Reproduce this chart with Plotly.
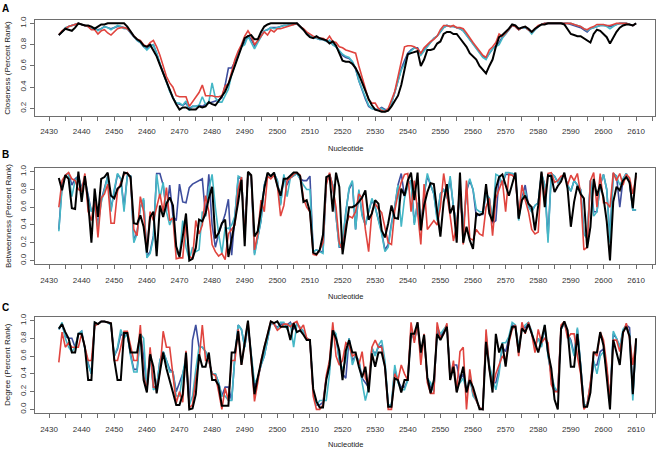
import plotly.graph_objects as go

nucleotides = list(range(2433, 2611))

# ---------------- Panel A: Closeness ----------------
close_blue = [
    0.89, 0.92, 0.95, 0.97, 0.98, 0.99, 1.00, 0.99, 0.98, 0.97,
    0.95, 0.95, 0.94, 0.95, 0.97, 0.96, 0.95, 0.96, 0.97, 0.97,
    0.96, 0.95, 0.91, 0.87, 0.84, 0.82, 0.78, 0.76, 0.79, 0.80,
    0.72, 0.62, 0.53, 0.45, 0.37, 0.30, 0.25, 0.24, 0.23, 0.25,
    0.20, 0.22, 0.22, 0.23, 0.22, 0.24, 0.25, 0.26, 0.27, 0.28,
    0.30, 0.42, 0.58, 0.58, 0.64, 0.71, 0.79, 0.82, 0.88, 0.85,
    0.79, 0.83, 0.88, 0.93, 0.94, 0.96, 0.96, 0.96, 0.97, 0.98,
    0.98, 0.99, 0.99, 1.00, 0.97, 0.94, 0.91, 0.89, 0.87, 0.86,
    0.85, 0.85, 0.83, 0.84, 0.80, 0.78, 0.74, 0.70, 0.68, 0.67,
    0.64, 0.57, 0.46, 0.37, 0.29, 0.22, 0.20, 0.19, 0.19, 0.21,
    0.19, 0.19, 0.25, 0.35, 0.46, 0.57, 0.65, 0.72, 0.75, 0.77,
    0.77, 0.71, 0.75, 0.79, 0.83, 0.86, 0.88, 0.92, 0.96, 0.98,
    0.97, 0.97, 0.96, 0.95, 0.93, 0.89, 0.85, 0.80, 0.76, 0.72,
    0.69, 0.67, 0.72, 0.76, 0.79, 0.82, 0.87, 0.90, 0.94, 0.98,
    0.97, 0.94, 0.96, 0.96, 0.94, 0.91, 0.94, 0.97, 0.99, 1.00,
    1.00, 1.00, 1.00, 1.00, 1.00, 1.00, 1.00, 0.99, 0.98, 0.97,
    0.96, 0.94, 0.92, 0.95, 0.96, 0.97, 0.98, 0.98, 0.98, 0.97,
    0.98, 0.99, 1.00, 1.00, 1.00, 0.99, 0.98, 1.00,
]
close_cyan = [
    0.89, 0.92, 0.96, 0.97, 0.98, 0.99, 1.00, 0.99, 0.98, 0.97,
    0.95, 0.96, 0.93, 0.95, 0.97, 0.96, 0.94, 0.96, 0.98, 0.97,
    0.95, 0.95, 0.91, 0.87, 0.84, 0.82, 0.78, 0.75, 0.78, 0.80,
    0.72, 0.62, 0.53, 0.45, 0.36, 0.30, 0.25, 0.25, 0.23, 0.27,
    0.18, 0.22, 0.22, 0.23, 0.31, 0.24, 0.26, 0.44, 0.30, 0.26,
    0.26, 0.32, 0.38, 0.52, 0.62, 0.70, 0.78, 0.80, 0.88, 0.82,
    0.76, 0.82, 0.88, 0.93, 0.94, 0.96, 0.95, 0.96, 0.97, 0.98,
    0.98, 0.99, 0.99, 1.00, 0.97, 0.94, 0.91, 0.89, 0.87, 0.86,
    0.85, 0.85, 0.83, 0.84, 0.80, 0.78, 0.74, 0.71, 0.69, 0.68,
    0.64, 0.58, 0.46, 0.38, 0.30, 0.23, 0.20, 0.19, 0.19, 0.20,
    0.18, 0.19, 0.25, 0.35, 0.46, 0.56, 0.62, 0.70, 0.74, 0.77,
    0.76, 0.70, 0.74, 0.78, 0.82, 0.86, 0.88, 0.92, 0.96, 0.98,
    0.97, 0.97, 0.96, 0.95, 0.93, 0.89, 0.85, 0.80, 0.76, 0.72,
    0.68, 0.66, 0.72, 0.76, 0.78, 0.80, 0.86, 0.90, 0.94, 0.98,
    0.97, 0.94, 0.96, 0.96, 0.94, 0.90, 0.94, 0.97, 0.99, 1.00,
    1.00, 1.00, 1.00, 1.00, 1.00, 1.00, 1.00, 1.00, 0.99, 0.98,
    0.97, 0.95, 0.93, 0.95, 0.96, 0.97, 0.98, 0.98, 0.97, 0.95,
    0.97, 0.99, 1.00, 1.00, 1.00, 0.99, 0.98, 1.00,
]
close_red = [
    0.89, 0.93, 0.95, 0.97, 0.98, 0.99, 1.00, 0.99, 0.98, 0.97,
    0.94, 0.94, 0.90, 0.93, 0.94, 0.91, 0.89, 0.92, 0.95, 0.96,
    0.96, 0.95, 0.92, 0.88, 0.85, 0.84, 0.80, 0.78, 0.82, 0.84,
    0.78, 0.70, 0.60, 0.50, 0.44, 0.40, 0.32, 0.31, 0.31, 0.31,
    0.22, 0.26, 0.31, 0.35, 0.42, 0.32, 0.32, 0.32, 0.31, 0.31,
    0.32, 0.41, 0.43, 0.55, 0.66, 0.74, 0.80, 0.88, 0.93, 0.88,
    0.80, 0.84, 0.88, 0.92, 0.89, 0.94, 0.92, 0.95, 0.95, 0.96,
    0.97, 0.98, 0.99, 1.00, 0.97, 0.95, 0.92, 0.90, 0.88, 0.87,
    0.86, 0.86, 0.84, 0.88, 0.83, 0.82, 0.78, 0.77, 0.75, 0.74,
    0.73, 0.72, 0.60, 0.50, 0.38, 0.28, 0.25, 0.25, 0.20, 0.18,
    0.17, 0.20, 0.28, 0.36, 0.50, 0.65, 0.78, 0.79, 0.79, 0.78,
    0.76, 0.72, 0.77, 0.80, 0.83, 0.85, 0.88, 0.94, 0.98, 0.98,
    0.97, 0.98, 0.96, 0.96, 0.95, 0.91, 0.86, 0.82, 0.78, 0.74,
    0.70, 0.68, 0.75, 0.78, 0.82, 0.90, 0.88, 0.91, 0.95, 0.98,
    0.97, 0.94, 0.96, 0.97, 0.94, 0.92, 0.95, 0.98, 0.99, 1.00,
    1.00, 1.00, 1.00, 1.00, 1.00, 1.00, 1.00, 1.00, 0.99, 0.98,
    0.97, 0.95, 0.94, 0.96, 0.97, 0.99, 0.99, 0.99, 0.98, 0.98,
    0.99, 1.00, 1.00, 1.00, 1.00, 0.99, 0.98, 1.00,
]
close_black = [
    0.89, 0.92, 0.95, 0.94, 0.93, 0.96, 1.00, 0.99, 0.98, 0.98,
    0.97, 0.95, 0.97, 0.99, 0.99, 1.00, 1.00, 1.00, 1.00, 1.00,
    1.00, 0.97, 0.92, 0.88, 0.85, 0.83, 0.79, 0.78, 0.80, 0.75,
    0.69, 0.61, 0.53, 0.46, 0.38, 0.30, 0.24, 0.19, 0.21, 0.21,
    0.19, 0.19, 0.19, 0.22, 0.21, 0.22, 0.26, 0.24, 0.23, 0.27,
    0.32, 0.36, 0.43, 0.52, 0.61, 0.69, 0.78, 0.86, 0.88, 0.89,
    0.85, 0.85, 0.92, 0.97, 0.99, 1.00, 1.00, 1.00, 1.00, 1.00,
    1.00, 1.00, 1.00, 1.00, 0.97, 0.94, 0.90, 0.87, 0.86, 0.88,
    0.86, 0.85, 0.84, 0.81, 0.83, 0.79, 0.72, 0.65, 0.64, 0.64,
    0.62, 0.58, 0.52, 0.44, 0.36, 0.29, 0.23, 0.19, 0.18, 0.17,
    0.17, 0.18, 0.22, 0.27, 0.32, 0.42, 0.55, 0.71, 0.72, 0.73,
    0.74, 0.60, 0.66, 0.75, 0.75, 0.76, 0.81, 0.83, 0.90, 0.92,
    0.92, 0.90, 0.90, 0.86, 0.82, 0.78, 0.72, 0.69, 0.66, 0.60,
    0.56, 0.53, 0.60, 0.66, 0.78, 0.87, 0.89, 0.92, 0.95, 0.99,
    0.98, 0.95, 0.96, 0.97, 0.95, 0.92, 0.95, 0.97, 0.99, 0.99,
    1.00, 1.00, 1.00, 1.00, 1.00, 0.99, 0.95, 0.90, 0.89, 0.88,
    0.88, 0.86, 0.84, 0.82, 0.90, 0.94, 0.93, 0.90, 0.87, 0.81,
    0.87, 0.92, 0.96, 0.98, 0.99, 0.99, 0.98, 1.00,
]

# ---------------- Panel B: Betweenness ----------------
betw_blue = [
    0.35, 0.85, 0.96, 0.98, 0.85, 0.92, 0.95, 0.82, 0.92, 0.72,
    0.55, 0.62, 0.40, 0.68, 0.82, 0.95, 0.58, 0.80, 0.97, 0.92,
    0.60, 0.95, 0.95, 0.22, 0.32, 0.60, 0.68, 0.05, 0.10, 0.28,
    0.98, 0.98, 0.85, 0.55, 0.85, 0.50, 0.45, 0.86, 0.66, 0.65,
    0.82, 0.86, 0.88, 0.90, 0.92, 0.50, 0.97, 0.40, 0.15, 0.30,
    0.40, 0.52, 0.69, 0.06, 0.50, 0.93, 0.93, 0.30, 0.97, 0.95,
    0.08, 0.28, 0.45, 0.85, 0.97, 0.95, 0.98, 0.90, 0.64, 0.95,
    0.85, 0.93, 0.96, 0.98, 0.92, 0.90, 0.90, 0.95, 0.10, 0.12,
    0.10, 0.10, 0.88, 0.97, 0.85, 0.50, 0.15, 0.15, 0.55, 0.80,
    0.88, 0.35, 0.78, 0.52, 0.40, 0.55, 0.68, 0.60, 0.47, 0.32,
    0.12, 0.18, 0.42, 0.60, 0.85, 0.98, 0.72, 0.85, 0.90, 0.42,
    0.65, 0.35, 0.75, 0.95, 0.85, 0.75, 0.48, 0.75, 0.80, 0.72,
    0.92, 0.60, 0.40, 0.75, 0.35, 0.78, 0.90, 0.80, 0.50, 0.52,
    0.52, 0.75, 0.70, 0.42, 0.45, 0.95, 0.85, 0.97, 0.97, 0.98,
    0.97, 0.48, 0.70, 0.85, 0.62, 0.55, 0.62, 0.65, 0.98, 0.85,
    0.25, 0.98, 0.95, 0.88, 0.92, 0.97, 0.85, 0.78, 0.90, 0.85,
    0.80, 0.30, 0.25, 0.90, 0.55, 0.55, 0.85, 0.97, 0.80, 0.25,
    0.98, 0.95, 0.60, 0.92, 0.98, 0.88, 0.57, 0.57,
]
betw_cyan = [
    0.33, 0.82, 0.96, 0.98, 0.72, 0.90, 0.95, 0.80, 0.90, 0.70,
    0.55, 0.60, 0.38, 0.65, 0.80, 0.95, 0.55, 0.80, 0.98, 0.92,
    0.55, 0.95, 0.95, 0.20, 0.30, 0.60, 0.70, 0.03, 0.08, 0.25,
    0.97, 0.70, 0.88, 0.55, 0.40, 0.50, 0.10, 0.05, 0.45, 0.15,
    0.01, 0.15, 0.10, 0.12, 0.55, 0.50, 0.80, 0.97, 0.60, 0.30,
    0.08, 0.37, 0.36, 0.40, 0.50, 0.95, 0.93, 0.30, 0.97, 0.95,
    0.06, 0.28, 0.45, 0.85, 0.97, 0.95, 0.98, 0.90, 0.62, 0.97,
    0.72, 0.93, 0.96, 0.98, 0.92, 0.85, 0.80, 0.80, 0.10, 0.12,
    0.10, 0.08, 0.88, 0.97, 0.85, 0.50, 0.15, 0.25, 0.55, 0.82,
    0.90, 0.35, 0.80, 0.50, 0.40, 0.55, 0.70, 0.60, 0.45, 0.30,
    0.10, 0.15, 0.40, 0.60, 0.85, 0.38, 0.70, 0.85, 0.90, 0.40,
    0.65, 0.35, 0.75, 0.98, 0.85, 0.75, 0.45, 0.75, 0.80, 0.70,
    0.95, 0.60, 0.40, 0.75, 0.35, 0.80, 0.92, 0.80, 0.58, 0.55,
    0.55, 0.75, 0.70, 0.45, 0.97, 0.95, 0.85, 0.99, 0.99, 0.98,
    0.97, 0.45, 0.70, 0.78, 0.60, 0.55, 0.62, 0.65, 0.98, 0.85,
    0.20, 0.98, 0.95, 0.88, 0.92, 0.97, 0.85, 0.78, 0.90, 0.85,
    0.80, 0.30, 0.25, 0.90, 0.50, 0.55, 0.85, 0.97, 0.80, 0.20,
    0.98, 0.95, 0.85, 0.92, 0.98, 0.88, 0.57, 0.57,
]
betw_red = [
    0.60, 0.90, 0.96, 0.99, 0.92, 0.90, 0.80, 0.78, 0.98, 0.55,
    0.45, 0.70, 0.26, 0.70, 0.75, 0.86, 0.42, 0.42, 0.78, 0.88,
    0.97, 0.99, 0.92, 0.35, 0.28, 0.72, 0.55, 0.10, 0.55, 0.45,
    0.60, 0.75, 0.55, 0.82, 0.45, 0.48, 0.02, 0.03, 0.03, 0.45,
    0.05, 0.02, 0.45, 0.30, 0.40, 0.73, 0.55, 0.18, 0.10, 0.05,
    0.08, 0.01, 0.30, 0.35, 0.40, 0.80, 0.94, 0.25, 0.99, 0.96,
    0.12, 0.30, 0.68, 0.55, 0.95, 0.92, 0.96, 0.85, 0.50, 0.62,
    0.90, 0.93, 0.97, 0.99, 0.96, 0.70, 0.60, 0.55, 0.07, 0.06,
    0.12, 0.20, 0.85, 0.99, 0.82, 0.60, 0.20, 0.12, 0.40, 0.50,
    0.48, 0.55, 0.75, 0.70, 0.35, 0.10, 0.55, 0.64, 0.58, 0.54,
    0.35, 0.20, 0.18, 0.56, 0.75, 0.88, 0.97, 0.98, 0.55, 0.90,
    0.55, 0.18, 0.86, 0.35, 0.40, 0.45, 0.40, 0.60, 0.98, 0.75,
    0.50, 0.22, 0.40, 0.85, 0.18, 0.90, 0.25, 0.23, 0.35, 0.30,
    0.28, 0.60, 0.70, 0.28, 0.70, 0.80, 0.90, 0.55, 0.97, 0.96,
    0.92, 0.50, 0.85, 0.68, 0.55, 0.35, 0.30, 0.32, 0.99, 0.70,
    0.98, 0.99, 0.88, 0.90, 0.95, 0.96, 0.85, 0.96, 0.90, 0.98,
    0.75, 0.12, 0.15, 0.90, 0.99, 0.60, 0.98, 0.65, 0.65, 0.60,
    0.99, 0.90, 0.98, 0.85, 0.97, 0.93, 0.75, 0.95,
]
betw_black = [
    0.93, 0.79, 0.96, 0.92, 0.59, 0.58, 1.00, 0.66, 0.95, 0.66,
    0.20, 0.81, 0.49, 0.92, 0.94, 0.99, 0.73, 0.70, 0.81, 0.84,
    0.99, 0.98, 0.94, 0.42, 0.41, 0.51, 0.38, 0.09, 0.49, 0.55,
    0.05, 0.62, 0.49, 0.64, 0.71, 0.62, 0.16, 0.04, 0.27, 0.53,
    0.00, 0.02, 0.14, 0.46, 0.44, 0.53, 0.70, 0.83, 0.25, 0.31,
    0.42, 0.46, 0.04, 0.23, 0.44, 0.66, 0.91, 0.16, 1.00, 0.96,
    0.27, 0.33, 0.57, 0.81, 0.99, 0.95, 0.99, 0.84, 0.73, 0.92,
    0.92, 0.95, 0.99, 0.99, 0.95, 0.66, 0.68, 0.55, 0.09, 0.07,
    0.12, 0.29, 0.94, 0.96, 0.55, 0.99, 0.83, 0.07, 0.33, 0.60,
    0.60, 0.62, 0.66, 0.71, 0.79, 0.46, 0.53, 0.68, 0.64, 0.34,
    0.26, 0.42, 0.62, 0.48, 0.47, 0.81, 0.73, 0.90, 0.99, 0.68,
    0.99, 0.34, 0.62, 0.77, 0.87, 0.86, 0.55, 0.27, 0.66, 0.86,
    0.53, 0.62, 0.20, 0.99, 0.20, 0.38, 0.23, 0.13, 0.53, 0.51,
    0.53, 0.86, 0.53, 0.44, 0.81, 0.94, 0.97, 0.84, 0.73, 0.86,
    0.99, 0.47, 0.68, 0.73, 0.64, 0.60, 0.34, 0.62, 1.00, 0.60,
    0.96, 0.95, 0.77, 0.84, 0.89, 0.99, 0.81, 0.38, 0.66, 0.84,
    0.75, 0.70, 0.14, 0.38, 0.92, 0.73, 0.86, 0.71, 0.44, 0.00,
    0.66, 0.83, 0.79, 0.90, 0.94, 0.88, 0.59, 0.99,
]

# ---------------- Panel C: Degree ----------------
deg_blue = [
    0.90, 0.96, 0.82, 0.80, 0.80, 0.70, 0.85, 0.88, 0.68, 0.52,
    0.40, 0.97, 0.96, 0.99, 0.99, 0.98, 0.95, 0.60, 0.68, 0.85,
    0.82, 0.85, 0.62, 0.45, 0.45, 0.85, 0.60, 0.22, 0.65, 0.25,
    0.25, 0.55, 0.65, 0.55, 0.45, 0.42, 0.20, 0.30, 0.40, 0.55,
    0.05, 0.78, 0.95, 0.70, 0.70, 0.65, 0.55, 0.40, 0.40, 0.30,
    0.15, 0.25, 0.25, 0.10, 0.60, 0.95, 0.90, 0.70, 0.95, 0.60,
    0.25, 0.35, 0.50, 0.60, 0.80, 0.97, 0.96, 0.92, 0.96, 0.96,
    0.95, 0.98, 0.90, 0.96, 0.92, 0.88, 0.80, 0.78, 0.20, 0.05,
    0.05, 0.08, 0.35, 0.45, 0.90, 0.82, 0.55, 0.40, 0.35, 0.80,
    0.55, 0.60, 0.55, 0.35, 0.30, 0.25, 0.68, 0.62, 0.70, 0.72,
    0.50, 0.05, 0.05, 0.45, 0.32, 0.25, 0.25, 0.33, 0.88, 0.78,
    0.95, 0.62, 0.82, 0.35, 0.25, 0.22, 0.90, 0.82, 0.88, 0.93,
    0.38, 0.50, 0.50, 0.33, 0.40, 0.22, 0.35, 0.18, 0.10, 0.02,
    0.00, 0.82, 0.48, 0.30, 0.30, 0.45, 0.70, 0.65, 0.80, 0.95,
    0.93, 0.68, 0.92, 0.92, 0.96, 0.86, 0.72, 0.80, 0.72, 0.92,
    0.62, 0.38, 0.22, 0.20, 0.90, 0.97, 0.85, 0.78, 0.62, 0.90,
    0.50, 0.05, 0.05, 0.28, 0.50, 0.50, 0.65, 0.68, 0.45, 0.10,
    0.85, 0.80, 0.70, 0.88, 0.95, 0.92, 0.15, 0.78,
]
deg_cyan = [
    0.90, 0.98, 0.80, 0.70, 0.65, 0.70, 0.85, 0.88, 0.68, 0.50,
    0.40, 0.98, 0.96, 0.99, 0.99, 0.98, 0.95, 0.60, 0.70, 0.90,
    0.80, 0.85, 0.60, 0.42, 0.42, 0.85, 0.80, 0.22, 0.65, 0.22,
    0.25, 0.55, 0.65, 0.55, 0.42, 0.42, 0.15, 0.15, 0.40, 0.60,
    0.05, 0.15, 0.45, 0.70, 0.70, 0.65, 0.55, 0.40, 0.40, 0.30,
    0.15, 0.15, 0.10, 0.10, 0.60, 0.95, 0.90, 0.70, 0.95, 0.60,
    0.30, 0.35, 0.50, 0.60, 0.80, 0.97, 0.96, 0.90, 0.98, 0.98,
    0.90, 0.97, 0.70, 0.96, 0.92, 0.88, 0.80, 0.78, 0.20, 0.05,
    0.10, 0.10, 0.10, 0.40, 0.90, 0.85, 0.55, 0.45, 0.55, 0.80,
    0.50, 0.60, 0.55, 0.30, 0.10, 0.25, 0.70, 0.60, 0.72, 0.78,
    0.55, 0.05, 0.05, 0.50, 0.30, 0.22, 0.22, 0.33, 0.90, 0.78,
    0.95, 0.60, 0.80, 0.35, 0.30, 0.20, 0.93, 0.85, 0.90, 0.95,
    0.40, 0.50, 0.25, 0.30, 0.35, 0.20, 0.38, 0.15, 0.10, 0.02,
    0.00, 0.85, 0.50, 0.35, 0.22, 0.40, 0.75, 0.75, 0.82, 0.98,
    0.95, 0.70, 0.90, 0.95, 0.98, 0.88, 0.70, 0.80, 0.70, 0.95,
    0.60, 0.40, 0.25, 0.20, 0.90, 0.97, 0.85, 0.75, 0.60, 0.92,
    0.50, 0.05, 0.05, 0.30, 0.55, 0.40, 0.60, 0.65, 0.45, 0.10,
    0.88, 0.80, 0.70, 0.90, 0.95, 0.85, 0.10, 0.78,
]
deg_red = [
    0.53, 0.87, 0.70, 0.75, 0.70, 0.70, 0.70, 0.85, 0.68, 0.55,
    0.55, 0.94, 0.96, 0.99, 0.99, 0.98, 0.97, 0.55, 0.55, 0.70,
    0.88, 0.88, 0.70, 0.55, 0.55, 0.95, 0.38, 0.22, 0.70, 0.25,
    0.24, 0.42, 0.88, 0.70, 0.70, 0.35, 0.07, 0.20, 0.08, 0.66,
    0.02, 0.05, 0.35, 0.55, 0.95, 0.55, 0.55, 0.40, 0.38, 0.20,
    0.00, 0.24, 0.10, 0.55, 0.55, 0.90, 0.50, 0.75, 0.99, 0.55,
    0.09, 0.30, 0.55, 0.70, 0.84, 0.99, 0.96, 0.89, 0.92, 0.96,
    0.96, 0.93, 0.97, 0.99, 0.90, 0.95, 0.80, 0.78, 0.15, 0.00,
    0.00, 0.05, 0.38, 0.55, 0.98, 0.60, 0.50, 0.55, 0.75, 0.72,
    0.60, 0.62, 0.50, 0.65, 0.35, 0.28, 0.70, 0.78, 0.70, 0.70,
    0.48, 0.00, 0.00, 0.40, 0.33, 0.50, 0.40, 0.33, 0.98, 0.75,
    0.98, 0.50, 0.85, 0.30, 0.18, 0.18, 0.98, 0.80, 0.85, 0.97,
    0.33, 0.55, 0.20, 0.65, 0.70, 0.00, 0.45, 0.20, 0.10, 0.02,
    0.00, 0.90, 0.45, 0.25, 0.40, 0.50, 0.60, 0.55, 0.75, 0.90,
    0.95, 0.60, 0.98, 0.85, 0.98, 0.85, 0.64, 0.90, 0.75, 0.80,
    0.75, 0.28, 0.20, 0.20, 0.95, 0.99, 0.80, 0.85, 0.85, 0.60,
    0.40, 0.00, 0.05, 0.30, 0.65, 0.60, 0.87, 0.78, 0.50, 0.10,
    0.78, 0.78, 0.65, 0.85, 0.97, 0.80, 0.50, 0.78,
]
deg_black = [
    0.91, 0.96, 0.87, 0.80, 0.64, 0.64, 0.85, 0.85, 0.70, 0.33,
    0.33, 0.98, 0.96, 0.99, 0.99, 0.98, 0.97, 0.56, 0.33, 0.33,
    0.86, 0.86, 0.64, 0.64, 0.64, 0.85, 0.33, 0.19, 0.62, 0.48,
    0.18, 0.42, 0.64, 0.46, 0.31, 0.19, 0.05, 0.05, 0.17, 0.64,
    0.00, 0.01, 0.17, 0.62, 0.48, 0.48, 0.64, 0.33, 0.33, 0.27,
    0.04, 0.04, 0.04, 0.64, 0.64, 0.88, 0.50, 0.75, 1.00, 0.58,
    0.17, 0.36, 0.54, 0.70, 0.84, 0.99, 0.97, 0.99, 0.93, 0.93,
    0.93, 0.78, 0.97, 0.87, 0.89, 0.84, 0.78, 0.78, 0.23, 0.09,
    0.02, 0.02, 0.33, 0.50, 0.89, 0.80, 0.66, 0.33, 0.66, 0.78,
    0.64, 0.64, 0.48, 0.36, 0.48, 0.19, 0.63, 0.48, 0.64, 0.64,
    0.48, 0.03, 0.03, 0.35, 0.33, 0.19, 0.33, 0.33, 0.85, 0.85,
    0.98, 0.64, 0.84, 0.36, 0.18, 0.33, 0.85, 0.78, 0.85, 0.93,
    0.33, 0.48, 0.19, 0.33, 0.48, 0.19, 0.33, 0.25, 0.11, 0.00,
    0.00, 0.76, 0.46, 0.19, 0.85, 0.64, 0.74, 0.48, 0.78, 0.93,
    0.93, 0.64, 0.91, 0.87, 0.96, 0.85, 0.74, 0.64, 0.78, 0.95,
    0.64, 0.46, 0.11, 0.00, 0.91, 0.99, 0.89, 0.48, 0.48, 0.85,
    0.46, 0.03, 0.03, 0.19, 0.64, 0.64, 0.87, 0.72, 0.36, 0.00,
    0.78, 0.64, 0.50, 0.87, 0.93, 0.82, 0.17, 0.80,
]

panels = [
    ("A", "Closeness (Percent Rank)", [close_blue, close_cyan, close_red, close_black],
     [0.1316, 1.0334], [0.2, 0.4, 0.6, 0.8, 1.0]),
    ("B", "Betweenness (Percent Rank)", [betw_blue, betw_cyan, betw_red, betw_black],
     [-0.04, 1.04], [0.0, 0.2, 0.4, 0.6, 0.8, 1.0]),
    ("C", "Degree (Percent Rank)", [deg_blue, deg_cyan, deg_red, deg_black],
     [-0.04, 1.04], [0.0, 0.2, 0.4, 0.6, 0.8, 1.0]),
]
x_ticks = list(range(2430, 2611, 10))

colors = ["#3E4E9E", "#45B7C6", "#E0443E", "#000000"]
widths = [1.6, 1.6, 1.6, 2.0]

W, H = 660, 451
# pixel frame positions (top, bottom) of each panel
frames = [(16, 113), (166, 263), (316.5, 413.5)]
x_left, x_right = 35, 655
label_y = [5, 152, 307]
xtitle_y = [146, 296, 445]

fig = go.Figure()
layout = dict(
    width=W, height=H, margin=dict(l=0, r=0, t=0, b=0),
    paper_bgcolor="white", plot_bgcolor="white", showlegend=False,
    font=dict(family="Liberation Sans, Arial, sans-serif", color="#222"),
)
annotations = []
axis_style = dict(showline=True, mirror=True, linecolor="#6e6e6e", linewidth=1,
                  showgrid=False, zeroline=False, ticks="outside", ticklen=4,
                  tickcolor="#6e6e6e", tickfont=dict(size=8, color="#333"))

for i, (lab, ytitle, series, yrange, yticks) in enumerate(panels):
    n = "" if i == 0 else str(i + 1)
    top, bot = frames[i]
    for s, c, w in zip(series, colors, widths):
        fig.add_trace(go.Scatter(x=nucleotides[:len(s)], y=s, mode="lines",
                                 line=dict(color=c, width=w),
                                 xaxis="x" + n, yaxis="y" + n, hoverinfo="skip"))
    layout["xaxis" + n] = dict(
        domain=[x_left / W, x_right / W], range=[2425.7, 2615.8],
        tickvals=x_ticks, ticktext=[str(t) for t in x_ticks],
        minor=dict(tickvals=list(range(2435, 2616, 10)), ticks="outside",
                   ticklen=4, tickcolor="#6e6e6e"),
        anchor="y" + n, ticklabelstandoff=4, **axis_style)
    layout["yaxis" + n] = dict(
        domain=[1 - bot / H, 1 - top / H], range=yrange,
        tickvals=yticks, ticktext=["%.1f" % v for v in yticks],
        tickangle=-90, anchor="x" + n, ticklabelstandoff=1, **axis_style)
    mid = (top + bot) / 2
    annotations.append(dict(text=ytitle, x=8 / W, y=1 - mid / H, xref="paper", yref="paper",
                            textangle=-90, showarrow=False, font=dict(size=8, color="#222"),
                            xanchor="center", yanchor="middle"))
    annotations.append(dict(text="Nucleotide", x=(x_left + x_right) / 2 / W,
                            y=1 - xtitle_y[i] / H, xref="paper", yref="paper",
                            showarrow=False, font=dict(size=7.5, color="#222"),
                            xanchor="center", yanchor="middle"))
    annotations.append(dict(text="<b>%s</b>" % lab, x=5 / W, y=1 - label_y[i] / H,
                            xref="paper", yref="paper", showarrow=False,
                            font=dict(size=10, color="#000"),
                            xanchor="center", yanchor="middle"))

layout["annotations"] = annotations
fig.update_layout(**layout)
fig.write_html("out.html", config={"displayModeBar": False},
               post_script="document.body.style.margin='0';document.body.style.padding='0';")
